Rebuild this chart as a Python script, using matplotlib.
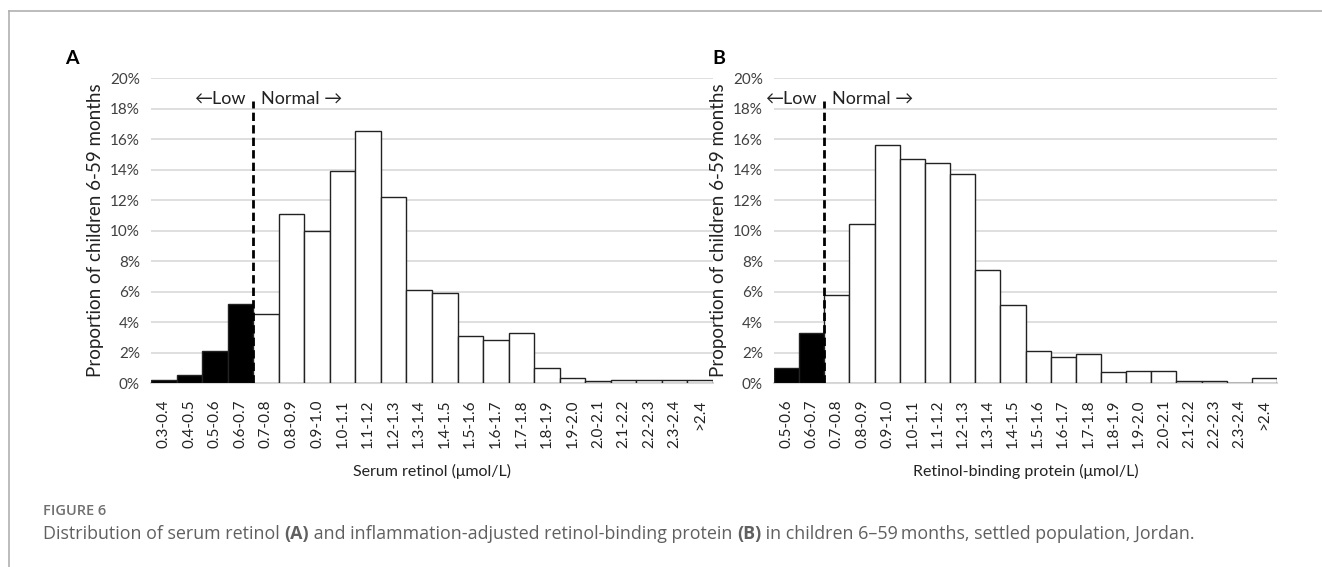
import matplotlib.pyplot as plt
import numpy as np

plt.rcParams['font.family'] = ['Lato', 'DejaVu Sans']

# Serum retinol distribution (panel A), percent of children per bin
retinolBins = ['0.3-0.4', '0.4-0.5', '0.5-0.6', '0.6-0.7', '0.7-0.8', '0.8-0.9',
               '0.9-1.0', '1.0-1.1', '1.1-1.2', '1.2-1.3', '1.3-1.4', '1.4-1.5',
               '1.5-1.6', '1.6-1.7', '1.7-1.8', '1.8-1.9', '1.9-2.0', '2.0-2.1',
               '2.1-2.2', '2.2-2.3', '2.3-2.4', '>2.4']
retinolPct = [0.2, 0.5, 2.1, 5.2, 4.5, 11.1, 10.0, 13.9, 16.5, 12.2, 6.1, 5.9,
              3.1, 2.8, 3.3, 1.0, 0.3, 0.1, 0.2, 0.2, 0.2, 0.2]
retinolLowBins = 4

# Retinol-binding protein distribution (panel B)
rbpBins = ['0.5-0.6', '0.6-0.7', '0.7-0.8', '0.8-0.9', '0.9-1.0', '1.0-1.1',
           '1.1-1.2', '1.2-1.3', '1.3-1.4', '1.4-1.5', '1.5-1.6', '1.6-1.7',
           '1.7-1.8', '1.8-1.9', '1.9-2.0', '2.0-2.1', '2.1-2.2', '2.2-2.3',
           '2.3-2.4', '>2.4']
rbpPct = [1.0, 3.3, 5.8, 10.4, 15.6, 14.7, 14.4, 13.7, 7.4, 5.1, 2.1, 1.7,
          1.9, 0.7, 0.8, 0.8, 0.1, 0.1, 0.0, 0.3]
rbpLowBins = 2

yTicks = [0, 2, 4, 6, 8, 10, 12, 14, 16, 18, 20]
yLabel = 'Proportion of children 6-59 months'
textColor = '#404040'

# caption pieces, bold flag for the panel letters
captionParts = [('Distribution of serum retinol ', False), ('(A)', True),
                (' and inflammation-adjusted retinol-binding protein ', False),
                ('(B)', True),
                (' in children 6\u201359\u2009months, settled population, Jordan.', False)]

W, H = 1322, 567


# Draw one histogram panel with the low bins filled black
def drawPanel(ax, bins, pct, nLow, xlabel):
    x = np.arange(len(bins))
    colors = ['black' if i < nLow else 'white' for i in range(len(bins))]
    ax.bar(x, pct, width=1.0, color=colors, edgecolor='#222222', linewidth=1.0,
           zorder=3)
    ax.set_xlim(-0.5, len(bins) - 0.5)
    ax.set_ylim(0, 20)
    ax.set_yticks(yTicks)
    ax.set_yticklabels([str(t) + '%' for t in yTicks], fontsize=11, color=textColor)
    ax.set_xticks(x)
    ax.set_xticklabels(bins, rotation=90, fontsize=11, color='#222222')
    ax.tick_params(axis='x', length=0, pad=12)
    ax.tick_params(axis='y', length=0, pad=8)
    ax.grid(axis='y', color='#d9d9d9', linewidth=1.2, zorder=0)
    for s in ['top', 'right', 'left']:
        ax.spines[s].set_visible(False)
    ax.spines['bottom'].set_color('#d9d9d9')
    ax.spines['bottom'].set_linewidth(1.5)
    ax.set_xlabel(xlabel, fontsize=11.5, color='#222222', labelpad=11)
    ax.set_ylabel(yLabel, fontsize=13.5, color='#222222', labelpad=4)

    # cut-off between low and normal
    cut = nLow - 0.5
    ax.plot([cut, cut], [0, 18.5], color='black', linewidth=2,
            linestyle=(0, (3, 1.5)), zorder=4)
    ax.text(cut - 0.3, 18.65, '\u2190Low', ha='right', va='center', fontsize=13,
            color='#222222')
    ax.text(cut + 0.3, 18.65, 'Normal \u2192', ha='left', va='center', fontsize=13,
            color='#222222')


def main():
    fig = plt.figure(figsize=(W / 100, H / 100), dpi=100)

    axA = fig.add_axes([0.1142, 0.3245, 0.4251, 0.5379])
    drawPanel(axA, retinolBins, retinolPct, retinolLowBins,
              'Serum retinol (\u03bcmol/L)')

    axB = fig.add_axes([0.5855, 0.3245, 0.3805, 0.5379])
    drawPanel(axB, rbpBins, rbpPct, rbpLowBins,
              'Retinol-binding protein (\u03bcmol/L)')

    fig.text(65 / W, 1 - 58 / H, 'A', fontsize=14, fontweight='bold',
             ha='left', va='center')
    fig.text(712 / W, 1 - 58 / H, 'B', fontsize=14, fontweight='bold',
             ha='left', va='center')

    # frame lines around the figure block
    fig.add_artist(plt.Line2D([9 / W, 1], [1 - 11 / H, 1 - 11 / H],
                              color='#b0b0b0', linewidth=1.2))
    fig.add_artist(plt.Line2D([9 / W, 9 / W], [0, 1 - 11 / H],
                              color='#b0b0b0', linewidth=1.2))

    fig.text(43 / W, 1 - 511 / H, 'FIGURE 6', fontsize=10.5, color='#707070',
             fontweight='semibold', family=['Open Sans', 'DejaVu Sans'],
             va='center', ha='left')

    # caption written piece by piece so the panel letters can be bold
    renderer = fig.canvas.get_renderer()
    xPos = 43
    for txt, bold in captionParts:
        t = fig.text(xPos / W, 1 - 534 / H, txt, fontsize=12.9, color='#606060',
                     fontweight='bold' if bold else 'normal',
                     family=['Open Sans', 'DejaVu Sans'], va='center', ha='left')
        xPos = t.get_window_extent(renderer).x1

    fig.savefig('out.png', dpi=100)


if __name__ == '__main__':
    main()
